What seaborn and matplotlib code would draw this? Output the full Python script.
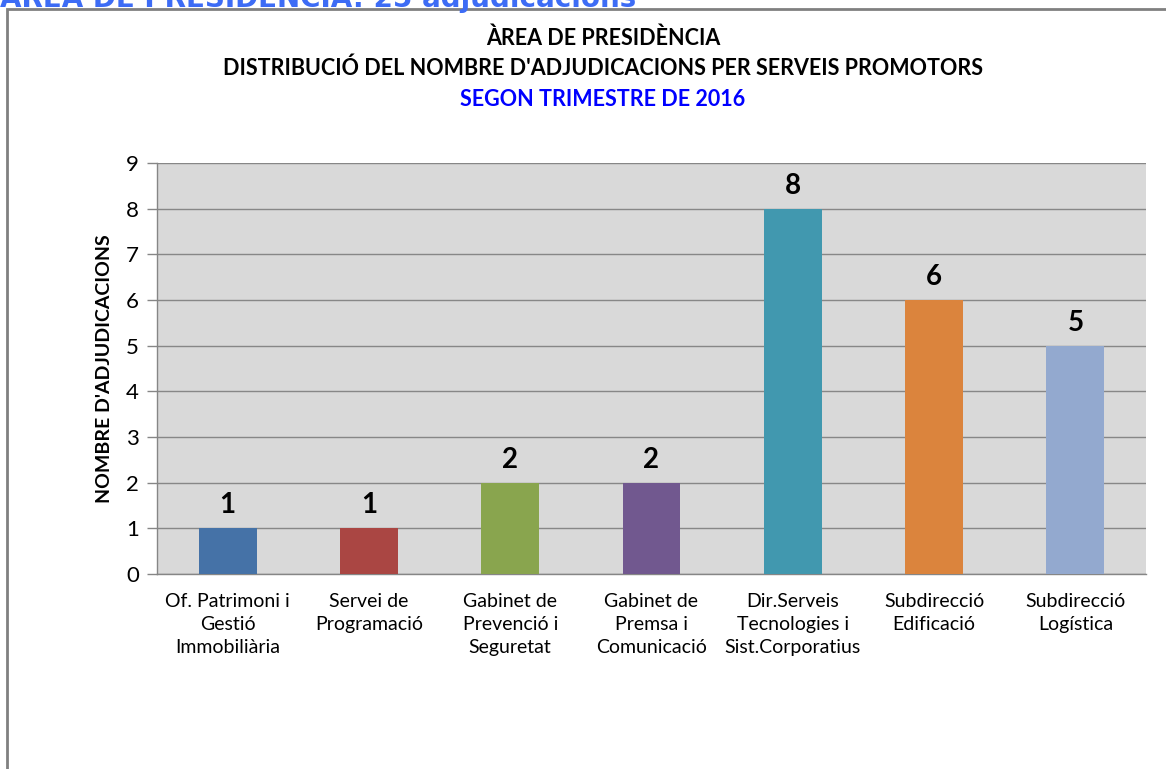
import matplotlib
matplotlib.use("Agg")
import matplotlib.pyplot as plt
import seaborn as sns
from matplotlib.patches import Rectangle

# --- dades ---
serveis = [
    "Of. Patrimoni i\nGestió\nImmobiliària",
    "Servei de\nProgramació",
    "Gabinet de\nPrevenció i\nSeguretat",
    "Gabinet de\nPremsa i\nComunicació",
    "Dir.Serveis\nTecnologies i\nSist.Corporatius",
    "Subdirecció\nEdificació",
    "Subdirecció\nLogística",
]
adjudicacions = [1, 1, 2, 2, 8, 6, 5]
colors = ["#4572A7", "#AA4643", "#89A54E", "#71588F", "#4198AF", "#DB843D", "#93A9CF"]
y_ticks = list(range(0, 10))

sns.set_style("white")
plt.rcParams["font.family"] = ["Lato", "DejaVu Sans"]
plt.rcParams["text.color"] = "black"
plt.rcParams["xtick.color"] = "#868686"
plt.rcParams["ytick.color"] = "#868686"
plt.rcParams["xtick.labelcolor"] = "black"
plt.rcParams["ytick.labelcolor"] = "black"
plt.rcParams["axes.labelcolor"] = "black"

W, H = 1166, 769
fig = plt.figure(figsize=(W / 100, H / 100), dpi=100)
ax = fig.add_axes([157 / W, 1 - 574 / H, (1146 - 157) / W, (574 - 163) / H])

sns.barplot(x=serveis, y=adjudicacions, hue=serveis, palette=colors,
            legend=False, width=0.41, saturation=1, linewidth=0, ax=ax, zorder=3)

ax.set_facecolor("#D9D9D9")
ax.set_ylim(0, 9)
ax.set_xlim(-0.5, len(serveis) - 0.5)
ax.set_yticks(y_ticks)
ax.yaxis.grid(True, color="#878787", linewidth=1, zorder=0)
ax.set_axisbelow(True)
for s in ["top", "right"]:
    ax.spines[s].set_visible(False)
for s in ["left", "bottom"]:
    ax.spines[s].set_color("#868686")
    ax.spines[s].set_linewidth(1)

ax.set_xticks(range(len(serveis)))
ax.set_xticklabels(serveis, fontsize=14, linespacing=1.42, va="top")
ax.set_xticks([i - 0.5 for i in range(len(serveis) + 1)], minor=True)
ax.tick_params(axis="x", which="major", length=0, pad=14)
ax.tick_params(axis="x", which="minor", length=5, direction="out", width=1)
ax.tick_params(axis="y", length=7, direction="out", width=1, labelsize=16, pad=6, left=True)

ax.set_xlabel("")
ax.set_ylabel("NOMBRE D'ADJUDICACIONS", fontsize=14, fontweight="bold", labelpad=9)

for i, v in enumerate(adjudicacions):
    ax.text(i, v + 0.33, str(v), ha="center", va="baseline", fontsize=20, fontweight="bold")

# marc del gràfic
fig.patches.append(Rectangle((7 / W, -0.1), 1.2, 1.1 - 9 / H, transform=fig.transFigure,
                             fill=False, edgecolor="#808080", linewidth=2, zorder=0))

# títols
cx = 603 / W
fig.text(cx, 1 - 38 / H, "ÀREA DE PRESIDÈNCIA", ha="center", va="center",
         fontsize=15.5, fontweight="bold")
fig.text(cx, 1 - 68 / H, "DISTRIBUCIÓ DEL NOMBRE D'ADJUDICACIONS PER SERVEIS PROMOTORS",
         ha="center", va="center", fontsize=15.5, fontweight="bold")
fig.text(cx, 1 - 99 / H, "SEGON TRIMESTRE DE 2016", ha="center", va="center",
         fontsize=15.5, fontweight="bold", color="#0000FF")

# capçalera de la pàgina, tallada a dalt com a l'original
fig.text(0.0, 1 - 7 / H, "ÀREA DE PRESIDÈNCIA: 25 adjudicacions", ha="left", va="baseline",
         fontsize=20, fontweight="bold", color="#3D6CF5", family=["DejaVu Sans"], zorder=5)

fig.savefig("out.png", dpi=100)
